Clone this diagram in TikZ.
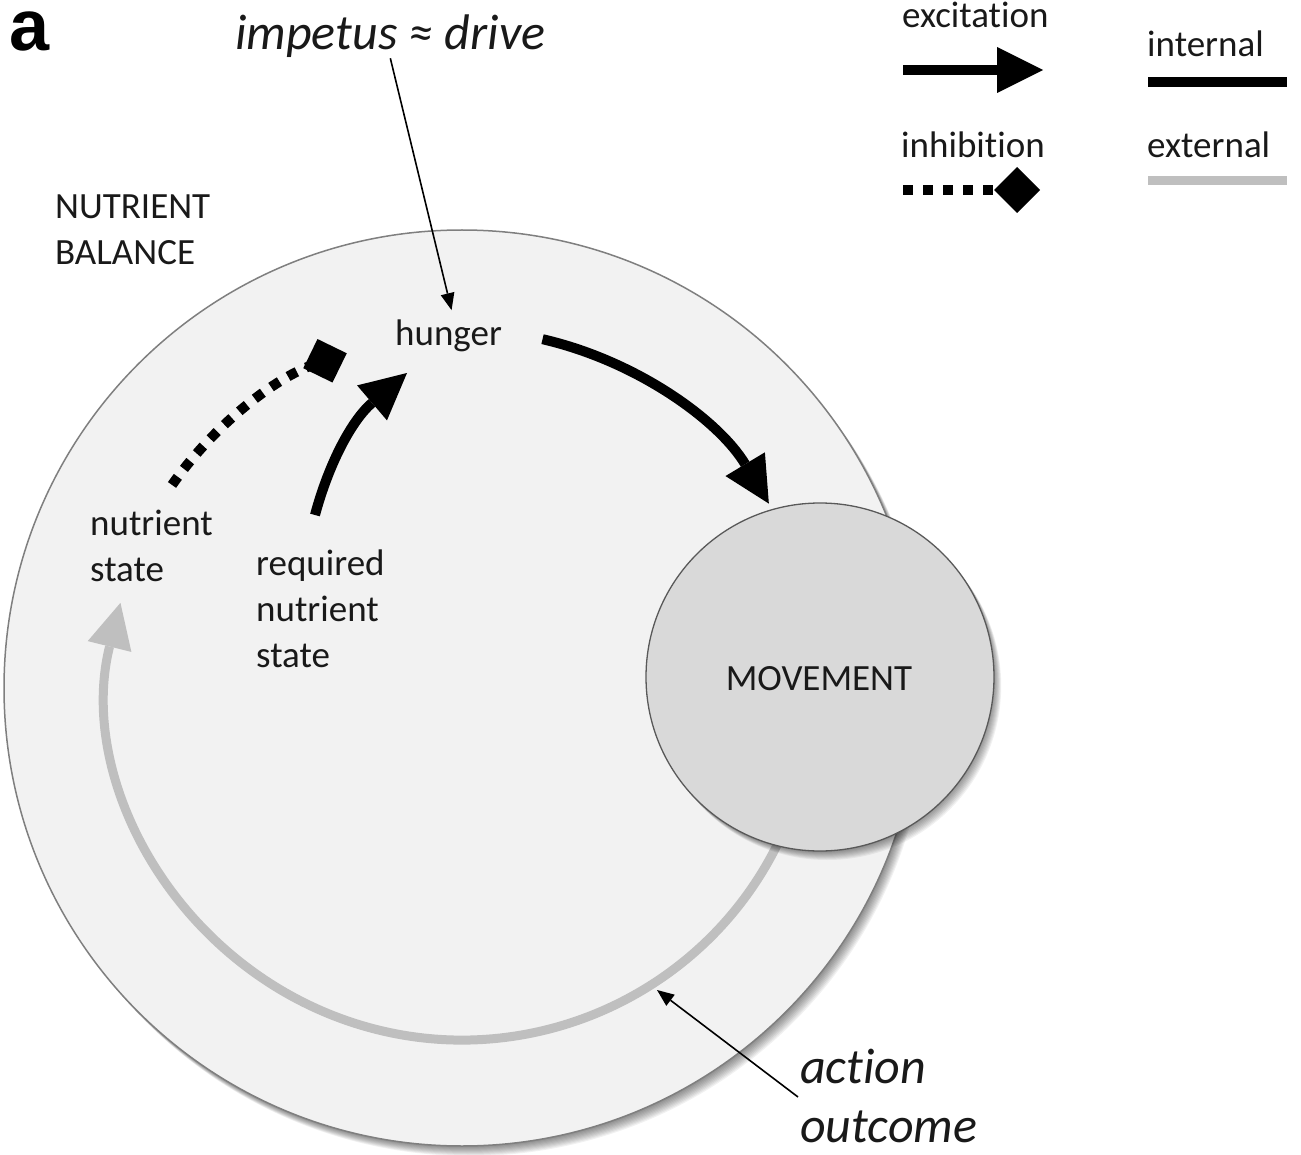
\documentclass[tikz,border=0pt]{standalone}
\usepackage{fontspec}
\setmainfont{Carlito}[Ligatures={NoCommon}]
\newfontfamily\panelfont{Liberation Sans}
\usetikzlibrary{arrows.meta,calc}
\definecolor{bigfill}{HTML}{F2F2F2}
\definecolor{movfill}{HTML}{D9D9D9}
\definecolor{extgray}{HTML}{BFBFBF}
\definecolor{rimgray}{HTML}{7F7F7F}
\definecolor{movrim}{HTML}{595959}
\begin{document}
\begin{tikzpicture}[x=1pt,y=1pt,
  lbl/.style={inner sep=0pt, font=\fontsize{37}{46}\selectfont, align=left, text=black!90},
  italbl/.style={inner sep=0pt, font=\fontsize{50}{59}\selectfont\itshape, align=left, text=black!90},
  excite/.style={line width=10pt, -{Triangle[length=46pt,width=46pt,line width=0pt]}},
  inhib/.style={line width=10pt, dash pattern=on 10pt off 10pt, -{Turned Square[length=46pt,width=46pt,line width=0pt]}},
  annot/.style={line width=1.6pt, -{Triangle[length=17pt,width=14pt,line width=0pt]}},
  extarrow/.style={line width=9pt, draw=extgray, -{Triangle[length=45pt,width=45pt,line width=0pt,fill=extgray]}},
  shade/.style={fill=black, fill opacity=0.055, draw=none}]
\useasboundingbox (0,0) rectangle (1301,-1155);

% big circle (nutrient balance) with soft shadow
\coordinate (C) at (462,-688);
\foreach \k in {1,...,10}{\fill[shade] ($(C)+(0.8*\k,-1.0*\k)$) circle[radius=458];}
\fill[bigfill] (C) circle[radius=458];
\draw[rimgray, line width=1.5pt] (C) circle[radius=458];

% external feedback arc (action outcome)
\coordinate (gs) at ($(C)+(-20:352)$);
\draw[extarrow] (gs) arc[start angle=-20, end angle=-194, radius=352];

% movement circle with shadow
\coordinate (M) at (820,-677);
\foreach \k in {1,...,9}{\fill[shade] ($(M)+(0.8*\k,-1.0*\k)$) circle[radius=174];}
\node[circle, fill=movfill, draw=movrim, line width=1.3pt, minimum size=348pt, inner sep=0pt] (movement) at (M) {};
\node[lbl, anchor=base] (movtext) at (819,-690) {MOVEMENT};

% labels (base anchor = baseline of the last line)
\node[inner sep=0pt, anchor=base west, font=\panelfont\bfseries\fontsize{72}{72}\selectfont] (panel) at (9,-51) {a};
\node[italbl, anchor=base west] (impetus) at (235,-50) {impetus ≈ drive};
\node[lbl, anchor=base west] (balance) at (55,-265) {NUTRIENT\\BALANCE};
\node[lbl, anchor=base west] (hunger) at (395,-346) {hunger};
\node[lbl, anchor=base west] (nstate) at (90,-581) {nutrient\\state};
\node[lbl, anchor=base west] (rstate) at (256,-667) {required\\nutrient\\state};
\node[italbl, anchor=base west] (action) at (800,-1142) {action\\outcome};

% internal connections
\coordinate (hs) at ($(C)+(77:358)$);
\draw[excite] (hs) arc[start angle=77, end angle=31, radius=358];
\coordinate (rs) at (315,-515);
\coordinate (rt) at (407,-373);
\draw[excite] (rs) .. controls (329,-463) and (352,-420) .. (rt);
\coordinate (ns) at ($(C)+(145:354)$);
\draw[inhib] (ns) arc[start angle=145, end angle=109, radius=354];

% annotation arrows
\draw[annot] (impetus.south) -- ($(hunger.north)+(3,10)$);
\coordinate (as) at (798,-1097);
\coordinate (at) at (657,-990);
\draw[annot] (as) -- (at);

% legend
\node[lbl, anchor=base west] (lexc) at (902,-28) {excitation};
\coordinate (le1) at (903,-70); \coordinate (le2) at (1043,-70);
\draw[excite] (le1) -- (le2);
\node[lbl, anchor=base west] (linh) at (901,-158) {inhibition};
\coordinate (li1) at (903,-190); \coordinate (li2) at (1040,-190);
\draw[inhib] (li1) -- (li2);
\node[lbl, anchor=base west] (lint) at (1147,-57) {internal};
\coordinate (lt1) at (1148,-82); \coordinate (lt2) at (1287,-82);
\draw[line width=10pt] (lt1) -- (lt2);
\node[lbl, anchor=base west] (lext) at (1147,-158) {external};
\coordinate (lx1) at (1148,-181); \coordinate (lx2) at (1287,-181);
\draw[line width=9pt, extgray] (lx1) -- (lx2);
\end{tikzpicture}
\end{document}
